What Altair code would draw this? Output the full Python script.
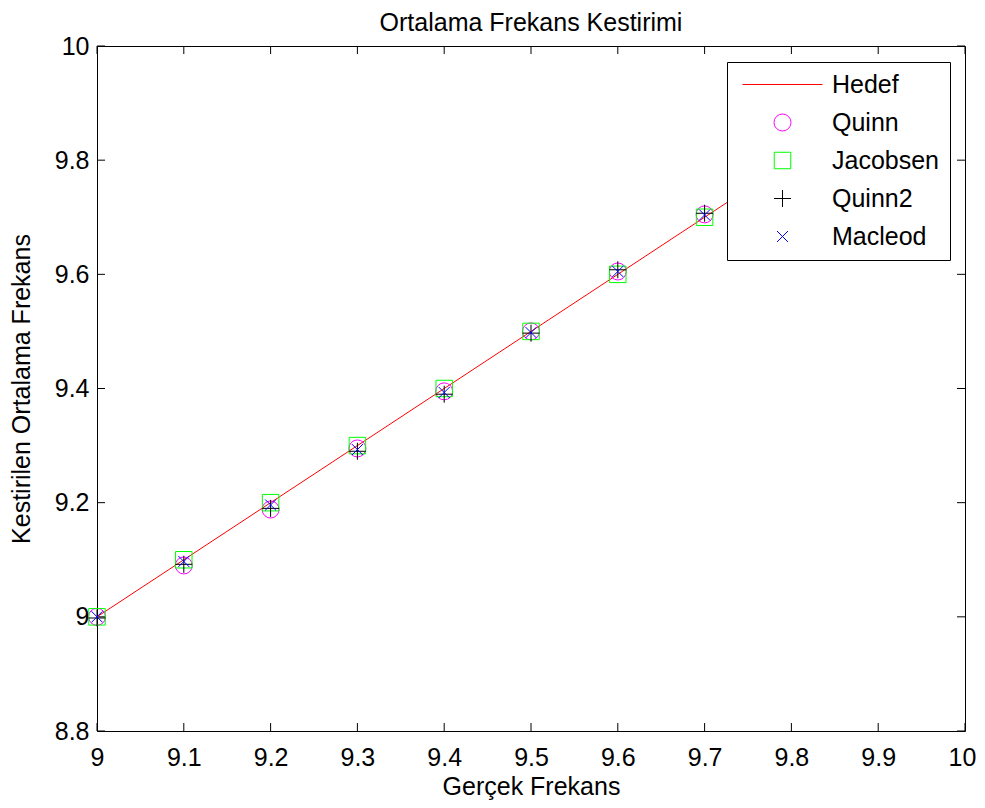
import altair as alt
import pandas as pd

# ---- data ----
true_freq = [9.0, 9.1, 9.2, 9.3, 9.4, 9.5, 9.6, 9.7]
hedef_x = [9.0, 9.9]
hedef_y = [9.0, 9.9]
quinn = [9.0, 9.09, 9.188, 9.295, 9.395, 9.5, 9.605, 9.705]
jacobsen = [9.0, 9.1, 9.2, 9.3, 9.4, 9.5, 9.6, 9.7]
quinn2 = [8.998, 9.092, 9.19, 9.29, 9.39, 9.497, 9.608, 9.707]
macleod = [9.0, 9.097, 9.196, 9.293, 9.393, 9.498, 9.605, 9.704]

series = ["Hedef", "Quinn", "Jacobsen", "Quinn2", "Macleod"]
colors = ["#ff0000", "#ff00ff", "#00ff00", "#000000", "#0000ff"]
shapes = ["M-5,0H5", "circle", "square", "M-1,0H1M0,-1V1", "M-1,-1L1,1M-1,1L1,-1"]
sizes = [256, 289, 272, 289, 121]

x_ticks = [9.0, 9.1, 9.2, 9.3, 9.4, 9.5, 9.6, 9.7, 9.8, 9.9, 10.0]
y_ticks = [8.8, 9.0, 9.2, 9.4, 9.6, 9.8, 10.0]

W, H = 868, 685
FONT = "Liberation Sans"
FS = 25

line_df = pd.DataFrame({"x": hedef_x, "y": hedef_y})
rows = []
for name, vals in [("Quinn", quinn), ("Jacobsen", jacobsen), ("Quinn2", quinn2), ("Macleod", macleod)]:
    for xv, yv in zip(true_freq, vals):
        rows.append({"x": xv, "y": yv, "series": name})
pts_df = pd.DataFrame(rows)
xt_df = pd.DataFrame({"x": x_ticks})
yt_df = pd.DataFrame({"y": y_ticks})

xscale = alt.Scale(domain=[8.999999, 10.000001], nice=False, zero=False)
yscale = alt.Scale(domain=[8.8, 10.0], nice=False, zero=False)

xaxis = alt.Axis(values=x_ticks, format="~g", title="Gerçek Frekans", grid=False, ticks=False,
                 domain=False, labelPadding=14, titlePadding=4, labelFlush=False,
                 labelOffset={"condition": {"test": "datum.value >= 10", "value": -3}, "value": 0},
                 labelFont=FONT, labelFontSize=FS, labelColor="black", titleFont=FONT,
                 titleFontSize=FS, titleFontWeight="normal", titleColor="black")
yaxis = alt.Axis(values=y_ticks, format="~g", title="Kestirilen Ortalama Frekans", grid=False,
                 ticks=False, domain=False, labelPadding=8, titlePadding=20, labelFlush=False,
                 labelFont=FONT, labelFontSize=FS, labelColor="black", titleFont=FONT,
                 titleFontSize=FS, titleFontWeight="normal", titleColor="black")

line = alt.Chart(line_df).mark_line(color="#ff0000", strokeWidth=1, clip=True).encode(
    x=alt.X("x:Q", scale=xscale, axis=xaxis),
    y=alt.Y("y:Q", scale=yscale, axis=yaxis),
)

points = alt.Chart(pts_df).mark_point(filled=False, strokeWidth=1, opacity=1).encode(
    x=alt.X("x:Q", scale=xscale),
    y=alt.Y("y:Q", scale=yscale),
    color=alt.Color("series:N", scale=alt.Scale(domain=series, range=colors),
                    legend=alt.Legend(title=None, orient="none", legendX=630, legendY=16,
                                      fillColor="white", strokeColor="black", padding=10,
                                      cornerRadius=0, labelFont=FONT, labelFontSize=FS,
                                      labelColor="black", symbolStrokeWidth=1,
                                      symbolOffset=33, labelOffset=37, rowPadding=12,
                                      labelLimit=300)),
    shape=alt.Shape("series:N", scale=alt.Scale(domain=series, range=shapes)),
    size=alt.Size("series:N", scale=alt.Scale(type="ordinal", domain=series, range=sizes)),
)

tick_b = alt.Chart(xt_df).mark_rule(color="black", strokeWidth=1).encode(
    x=alt.X("x:Q", scale=xscale), y=alt.value(H), y2=alt.value(H - 8))
tick_t = alt.Chart(xt_df).mark_rule(color="black", strokeWidth=1).encode(
    x=alt.X("x:Q", scale=xscale), y=alt.value(0), y2=alt.value(8))
tick_l = alt.Chart(yt_df).mark_rule(color="black", strokeWidth=1).encode(
    y=alt.Y("y:Q", scale=yscale), x=alt.value(0), x2=alt.value(8))
tick_r = alt.Chart(yt_df).mark_rule(color="black", strokeWidth=1).encode(
    y=alt.Y("y:Q", scale=yscale), x=alt.value(W), x2=alt.value(W - 8))

chart = alt.layer(tick_b, tick_t, tick_l, tick_r, line, points).properties(
    width=W, height=H,
    title=alt.TitleParams("Ortalama Frekans Kestirimi", font=FONT, fontSize=FS,
                          fontWeight="normal", color="black", offset=-2, anchor="middle",
                          frame="group"),
    autosize=alt.AutoSizeParams(type="none"),
    padding={"left": 89, "top": 38, "right": 12, "bottom": 69},
    background="white",
).configure_view(stroke="black", strokeWidth=1)

chart.save("out.html", embed_options={"renderer": "svg", "actions": False})
